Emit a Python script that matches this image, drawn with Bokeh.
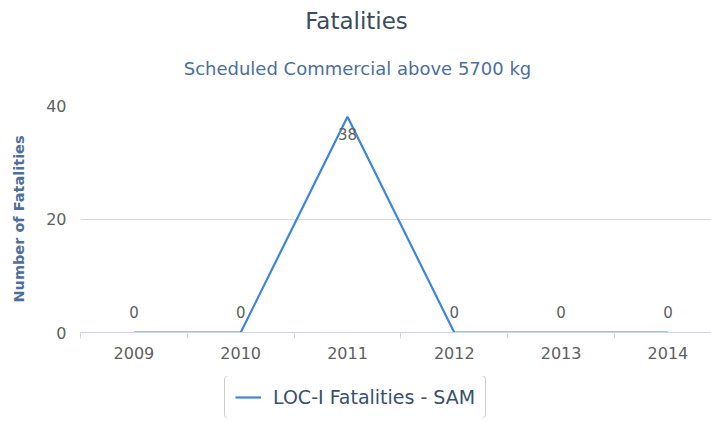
from bokeh.plotting import figure
from bokeh.layouts import column
from bokeh.models import FixedTicker, Label, Legend, LegendItem, ColumnDataSource, Range1d
from bokeh.embed import file_html
from bokeh.resources import INLINE
from bokeh.core.properties import value

years = [2009, 2010, 2011, 2012, 2013, 2014]
fatalities = [0, 0, 38, 0, 0, 0]
y_ticks = [0, 20, 40]
series_name = "LOC-I Fatalities - SAM"
title_text = "Fatalities"
subtitle_text = "Scheduled Commercial above 5700 kg"
y_label = "Number of Fatalities"

FONT = "DejaVu Sans"
LINE = "#3d85dd"
W = 711
LEFT = 80

# ---- header (title + subtitle); frames in a column share the left edge ----
head = figure(width=W, height=95, output_backend="svg", toolbar_location=None,
              x_range=Range1d(LEFT, W), y_range=Range1d(95, 0),
              x_axis_type=None, y_axis_type=None, min_border=0)
head.outline_line_color = None
head.xgrid.visible = False
head.ygrid.visible = False
head.add_layout(Label(x=356, y=20, text=title_text, text_align="center",
                      text_baseline="middle", text_font=FONT, text_font_size="23px",
                      text_color="#3d4b5c"))
head.add_layout(Label(x=357, y=68, text=subtitle_text, text_align="center",
                      text_baseline="middle", text_font=FONT, text_font_size="18px",
                      text_color="#4d6f99"))

# ---- main plot ----
p = figure(width=W, height=281, output_backend="svg", toolbar_location=None,
           x_range=Range1d(years[0] - 0.5, years[0] - 0.5 + (W - LEFT) / 106.8),
           y_range=Range1d(0, 40),
           min_border_left=LEFT, min_border_right=0, min_border_top=10, min_border_bottom=44)
p.outline_line_color = None

src = ColumnDataSource(dict(
    x=years, y=fatalities, t=[str(v) for v in fatalities],
    off=[17 if v >= max(fatalities) * 0.9 else -21 for v in fatalities]))

r = p.line("x", "y", source=src, line_width=2.2, line_color=LINE)
p.text("x", "y", text="t", source=src, y_offset="off", text_align="center",
       text_baseline="middle", text_font=value(FONT), text_font_size="15px",
       text_color="#606060")

boundaries = [y - 0.5 for y in years] + [years[-1] + 0.5]
xa = p.xaxis[0]
xa.ticker = FixedTicker(ticks=years, minor_ticks=boundaries)
xa.major_tick_line_color = None
xa.major_tick_in = 0
xa.major_tick_out = 0
xa.minor_tick_line_color = "#ccd6eb"
xa.minor_tick_in = 0
xa.minor_tick_out = 6
xa.axis_line_color = "#ccd6eb"
xa.major_label_text_font = FONT
xa.major_label_text_font_size = "16px"
xa.major_label_text_color = "#606060"
xa.major_label_standoff = 8

ya = p.yaxis[0]
ya.ticker = FixedTicker(ticks=y_ticks)
ya.axis_line_color = None
ya.major_tick_line_color = None
ya.major_tick_in = 0
ya.major_tick_out = 0
ya.minor_tick_line_color = None
ya.major_label_text_font = FONT
ya.major_label_text_font_size = "16px"
ya.major_label_text_color = "#606060"
ya.major_label_standoff = 14
ya.axis_label = y_label
ya.axis_label_text_font = FONT
ya.axis_label_text_font_size = "14.5px"
ya.axis_label_text_font_style = "bold"
ya.axis_label_text_color = "#4d6f99"
ya.axis_label_standoff = 16

p.xgrid.grid_line_color = None
p.ygrid.grid_line_color = "#d8d8d8"

# ---- legend strip ----
foot = figure(width=W, height=45, output_backend="svg", toolbar_location=None,
              x_range=Range1d(0, 1), y_range=Range1d(0, 1),
              x_axis_type=None, y_axis_type=None, min_border=0,
              min_border_bottom=3)
foot.outline_line_color = None
foot.xgrid.visible = False
foot.ygrid.visible = False
r2 = foot.line("x", "y", source=src, line_width=2.2, line_color=LINE)
legend = Legend(items=[LegendItem(label=series_name, renderers=[r2])],
                location=(224 - LEFT, -1), orientation="horizontal",
                label_text_font=FONT, label_text_font_size="19px",
                label_text_color="#3a4f6e", border_line_color="#999999",
                border_line_width=1, padding=10, glyph_width=26, label_standoff=12,
                margin=0, background_fill_color="white")
try:
    legend.border_radius = 5
except Exception:
    pass
foot.add_layout(legend, "center")

layout = column(head, p, foot, spacing=0)
open("out.html", "w").write(file_html(layout, INLINE))
